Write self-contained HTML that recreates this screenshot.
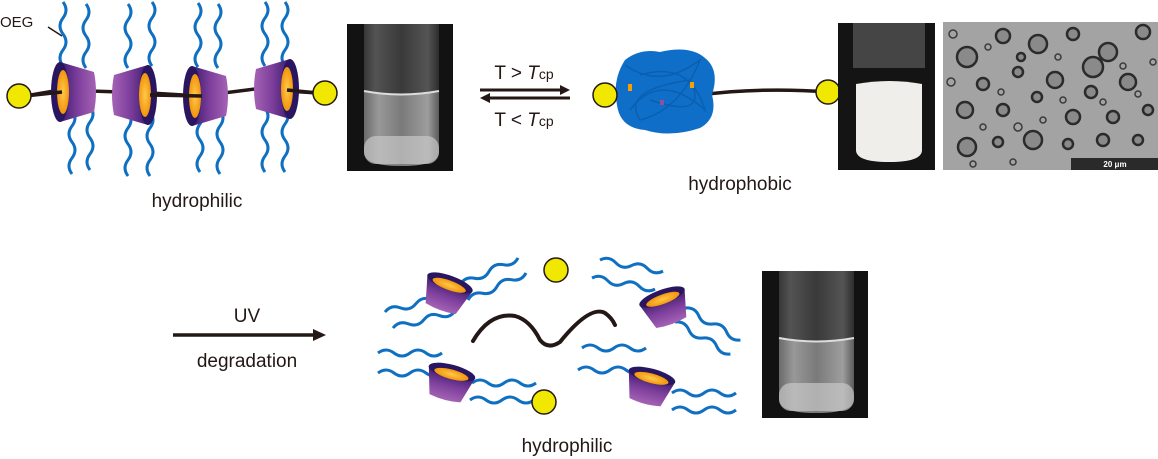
<!DOCTYPE html>
<html><head><meta charset="utf-8"><style>
html,body{margin:0;padding:0;background:#fff;}
svg{display:block;}
text{font-family:"Liberation Sans",sans-serif;fill:#231815;}
</style></head><body>
<svg width="1158" height="459" viewBox="0 0 1158 459" xmlns="http://www.w3.org/2000/svg">
<defs>
  <linearGradient id="pg" x1="0" y1="0" x2="1" y2="0">
    <stop offset="0" stop-color="#3a1a6e"/><stop offset="0.5" stop-color="#7d3f9c"/><stop offset="1" stop-color="#a563b5"/>
  </linearGradient>
  <radialGradient id="og" cx="0.5" cy="0.5" r="0.6">
    <stop offset="0" stop-color="#ffc94a"/><stop offset="1" stop-color="#f08a00"/>
  </radialGradient>
  <g id="ring">
    <path d="M0,-30 L34,-20 Q38,0 34,20 L0,30 Z" fill="url(#pg)"/>
    <ellipse cx="0" cy="0" rx="9" ry="30" fill="#2a1660"/>
    <ellipse cx="3" cy="0" rx="6" ry="22" fill="url(#og)"/>
  </g>
  <g id="wv"><path d="M0,0 q6,8 0,16 t0,16 t0,16 t0,16" fill="none" stroke="#0f6fc0" stroke-width="3"/></g>
  <g id="wh"><path d="M0,0 q8,-6 16,0 t16,0 t16,0 t16,0" fill="none" stroke="#0f6fc0" stroke-width="3"/></g>
  <linearGradient id="glass" x1="0" y1="0" x2="1" y2="0">
    <stop offset="0" stop-color="#555"/><stop offset="0.15" stop-color="#888"/><stop offset="0.5" stop-color="#5a5a5a"/><stop offset="0.85" stop-color="#8a8a8a"/><stop offset="1" stop-color="#444"/>
  </linearGradient>
  <linearGradient id="liq" x1="0" y1="0" x2="1" y2="0">
    <stop offset="0" stop-color="#777"/><stop offset="0.2" stop-color="#aaa"/><stop offset="0.5" stop-color="#8a8a8a"/><stop offset="0.85" stop-color="#b0b0b0"/><stop offset="1" stop-color="#666"/>
  </linearGradient>
  <g id="vial">
    <rect x="0" y="0" width="106" height="147" fill="#121212"/>
    <path d="M17,0 L92,0 L92,128 Q92,142 54,142 Q17,142 17,128 Z" fill="url(#glass)" opacity="0.55"/>
    <path d="M17,67 Q54,74 92,67 L92,128 Q92,142 54,142 Q17,142 17,128 Z" fill="url(#liq)" opacity="0.8"/>
    <path d="M17,67 Q54,74 92,67" stroke="#ddd" stroke-width="2" fill="none"/>
    <rect x="17" y="112" width="75" height="28" rx="12" fill="#c8c8c8" opacity="0.7"/>
  </g>
</defs>

<!-- top-left molecule -->
<g>
  <use href="#wv" x="63" y="2"/><use href="#wv" x="86" y="4"/>
  <use href="#wv" x="128" y="4"/><use href="#wv" x="152" y="2"/>
  <use href="#wv" x="198" y="3"/><use href="#wv" x="218" y="4"/>
  <use href="#wv" x="265" y="2"/><use href="#wv" x="285" y="2"/>
  <use href="#wv" x="72" y="110"/><use href="#wv" x="90" y="106"/>
  <use href="#wv" x="128" y="112"/><use href="#wv" x="150" y="112"/>
  <use href="#wv" x="200" y="108"/><use href="#wv" x="220" y="110"/>
  <use href="#wv" x="265" y="108"/><use href="#wv" x="285" y="108"/>
  <path d="M25,96 L60,90 L150,93 L200,96 L255,89 L318,93" stroke="#231815" stroke-width="3.5" fill="none"/>
  <use href="#ring" transform="translate(60,92)"/>
  <use href="#ring" transform="translate(148,95) scale(-1,1)"/>
  <use href="#ring" transform="translate(192,96)"/>
  <use href="#ring" transform="translate(290,89) scale(-1,1)"/>
  <path d="M25,96 L62,92" stroke="#231815" stroke-width="3.5"/>
  <path d="M150,95 L202,96" stroke="#231815" stroke-width="3.5"/>
  <path d="M287,90 L318,93" stroke="#231815" stroke-width="3.5"/>
  <circle cx="19" cy="96" r="12" fill="#f0e800" stroke="#231815" stroke-width="1.5"/>
  <circle cx="325" cy="93" r="12" fill="#f0e800" stroke="#231815" stroke-width="1.5"/>
  <text x="0" y="27" font-size="15">OEG</text>
  <path d="M48,27 L62,36" stroke="#231815" stroke-width="1.5"/>
  <text x="197" y="207" font-size="19" text-anchor="middle">hydrophilic</text>
</g>

<use href="#vial" x="347" y="24"/>

<!-- equilibrium arrows -->
<text x="524" y="79" font-size="19" text-anchor="middle">T &gt; <tspan font-style="italic">T</tspan><tspan font-size="14">cp</tspan></text>
<path d="M480,90 L562,90" stroke="#231815" stroke-width="3"/>
<path d="M570,90 L560,85 L560,95 Z" fill="#231815"/>
<path d="M488,98 L570,98" stroke="#231815" stroke-width="3"/>
<path d="M480,98 L490,93 L490,103 Z" fill="#231815"/>
<text x="524" y="126" font-size="19" text-anchor="middle">T &lt; <tspan font-style="italic">T</tspan><tspan font-size="14">cp</tspan></text>

<!-- hydrophobic -->
<path d="M700,95 Q760,87 830,92" stroke="#231815" stroke-width="3.5" fill="none"/>
<path d="M625,60 Q640,48 660,52 Q690,45 705,58 Q720,70 712,95 Q718,118 700,128 Q670,138 645,130 Q620,128 617,105 Q612,80 625,60 Z" fill="#0f6fc8"/>
<g fill="none" stroke="#0a5fb0" stroke-width="1.5">
  <path d="M625,65 Q660,90 700,60 Q680,110 640,120 Q620,90 690,80 Q710,120 650,100"/>
  <path d="M630,110 Q660,70 705,110 Q690,60 640,75"/>
</g>
<rect x="628" y="84" width="4" height="7" fill="#f5a000"/>
<rect x="690" y="82" width="4" height="6" fill="#f5a000"/>
<rect x="660" y="100" width="4" height="5" fill="#9050a0"/>
<circle cx="605" cy="95" r="12" fill="#f0e800" stroke="#231815" stroke-width="1.5"/>
<circle cx="828" cy="92" r="12" fill="#f0e800" stroke="#231815" stroke-width="1.5"/>
<text x="740" y="190" font-size="19" text-anchor="middle">hydrophobic</text>

<!-- turbid vial -->
<g>
  <rect x="838" y="23" width="97" height="147" fill="#141414"/>
  <path d="M853,23 L925,23 L925,68 L853,68 Z" fill="#666" opacity="0.6"/>
  <path d="M856,84 Q890,78 922,84 L922,150 Q922,162 889,162 Q856,162 856,150 Z" fill="#efeeea"/>
</g>

<!-- micrograph -->
<svg x="943" y="22" width="215" height="148" viewBox="0 0 215 148">
  <rect width="215" height="148" fill="#a3a3a3"/>
  <g fill="#8a8a8a" stroke="#2b2b2b" stroke-width="2.5">
    <circle cx="24" cy="35" r="10"/><circle cx="60" cy="14" r="7"/><circle cx="95" cy="22" r="9"/><circle cx="130" cy="12" r="6"/><circle cx="165" cy="30" r="9"/><circle cx="200" cy="10" r="7"/>
    <circle cx="40" cy="62" r="6"/><circle cx="75" cy="50" r="5"/><circle cx="112" cy="58" r="8"/><circle cx="148" cy="70" r="6"/><circle cx="185" cy="60" r="8"/>
    <circle cx="22" cy="88" r="8"/><circle cx="60" cy="88" r="6"/><circle cx="94" cy="75" r="5"/><circle cx="130" cy="95" r="7"/><circle cx="170" cy="95" r="6"/><circle cx="205" cy="88" r="5"/>
    <circle cx="24" cy="125" r="9"/><circle cx="55" cy="120" r="5"/><circle cx="90" cy="118" r="9"/><circle cx="125" cy="122" r="5"/><circle cx="160" cy="118" r="6"/><circle cx="195" cy="118" r="5"/>
    <circle cx="150" cy="45" r="10"/><circle cx="78" cy="35" r="4"/>
  </g>
  <g fill="none" stroke="#3a3a3a" stroke-width="1.5">
    <circle cx="10" cy="12" r="4"/><circle cx="45" cy="25" r="3"/><circle cx="115" cy="35" r="3"/><circle cx="180" cy="44" r="3"/><circle cx="8" cy="60" r="4"/><circle cx="58" cy="70" r="3"/><circle cx="100" cy="98" r="3"/><circle cx="145" cy="140" r="3"/><circle cx="40" cy="105" r="3"/><circle cx="75" cy="105" r="4"/><circle cx="195" cy="72" r="3"/><circle cx="120" cy="78" r="3"/><circle cx="160" cy="80" r="3"/><circle cx="70" cy="140" r="3"/><circle cx="30" cy="142" r="3"/><circle cx="210" cy="40" r="3"/>
  </g>
  <rect x="128" y="136" width="87" height="12" fill="#2a2a2a"/>
  <text x="172" y="145" font-size="8" font-weight="bold" text-anchor="middle" style="fill:#fff">20 μm</text>
</svg>

<!-- UV arrow -->
<text x="247" y="322" font-size="19" text-anchor="middle">UV</text>
<path d="M173,335 L315,335" stroke="#231815" stroke-width="3.5"/>
<path d="M326,335 L313,329 L313,341 Z" fill="#231815"/>
<text x="247" y="367" font-size="19" text-anchor="middle">degradation</text>

<!-- degraded components -->
<g>
  <!-- top-left cup -->
  <use href="#wh" x="385" y="312" transform="rotate(-15 385 312)"/><use href="#wh" x="393" y="328" transform="rotate(-15 393 328)"/>
  <use href="#wh" x="460" y="285" transform="rotate(-25 460 285)"/><use href="#wh" x="468" y="300" transform="rotate(-25 468 300)"/>
  <use href="#ring" transform="translate(450,283) rotate(110) scale(0.8)"/>
  <!-- top-right cup -->
  <use href="#wh" x="600" y="260" transform="rotate(10 600 260)"/><use href="#wh" x="592" y="278" transform="rotate(10 592 278)"/>
  <use href="#wh" x="685" y="308" transform="rotate(30 685 308)"/><use href="#wh" x="675" y="322" transform="rotate(30 675 322)"/>
  <use href="#ring" transform="translate(662,297) rotate(70) scale(0.8)"/>
  <!-- bottom-left cup -->
  <use href="#wh" x="378" y="353"/><use href="#wh" x="378" y="373"/>
  <use href="#wh" x="472" y="383"/><use href="#wh" x="470" y="400"/>
  <use href="#ring" transform="translate(452,372) rotate(105) scale(0.8)"/>
  <!-- bottom-right cup -->
  <use href="#wh" x="582" y="348"/><use href="#wh" x="578" y="370"/>
  <use href="#wh" x="672" y="393"/><use href="#wh" x="672" y="410"/>
  <use href="#ring" transform="translate(652,376) rotate(105) scale(0.8)"/>
  <circle cx="556" cy="270" r="12" fill="#f0e800" stroke="#231815" stroke-width="1.5"/>
  <circle cx="544" cy="402" r="12" fill="#f0e800" stroke="#231815" stroke-width="1.5"/>
  <path d="M473,341 Q490,312 515,316 Q530,320 540,340 Q548,350 560,342 Q590,305 605,313 Q612,318 615,325" stroke="#231815" stroke-width="4" fill="none" stroke-linecap="round"/>
  <text x="567" y="452" font-size="19" text-anchor="middle">hydrophilic</text>
</g>

<use href="#vial" x="762" y="271"/>
</svg>
</body></html>
